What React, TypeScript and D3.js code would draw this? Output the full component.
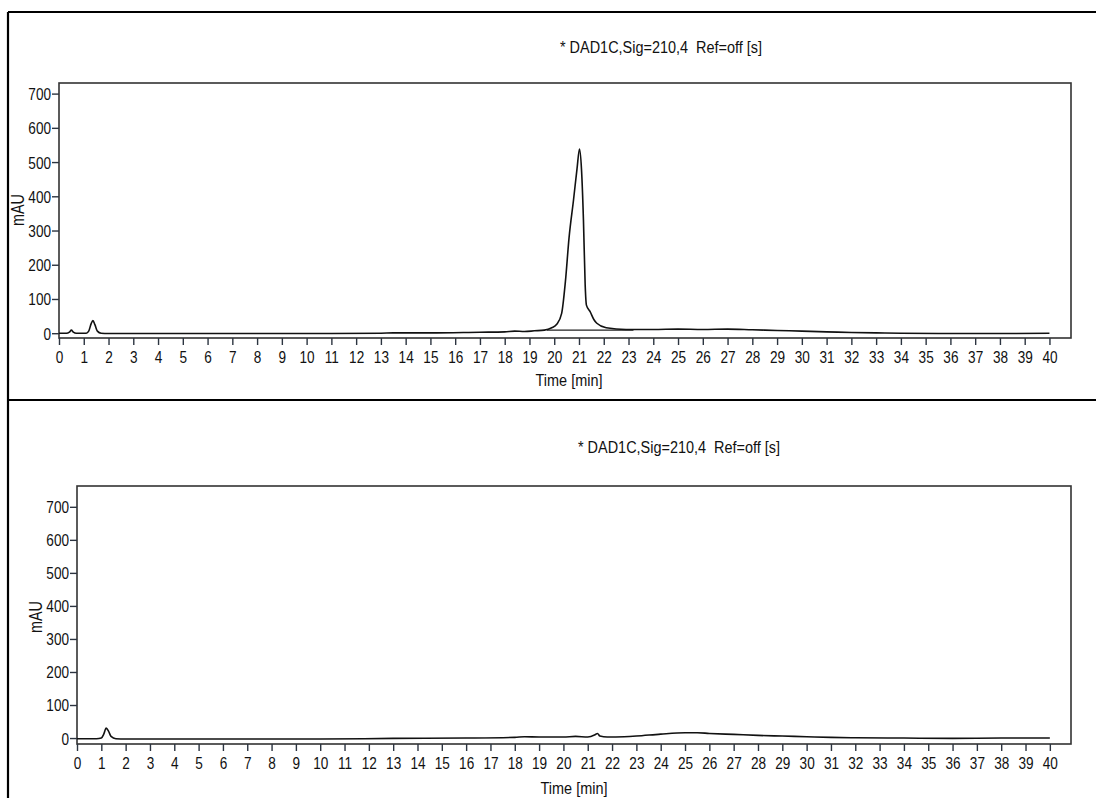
import React, { useEffect, useRef } from "react";
import * as d3 from "d3";

// chromatogram traces: [time in min, signal in mAU]
const topTrace: [number, number][] = [
  [0, 0], [0.3, 0], [0.42, 3], [0.5, 9], [0.58, 3], [0.7, 0], [1.1, 0], [1.2, 6], [1.3, 28], [1.37, 37],
  [1.45, 25], [1.55, 6], [1.7, 0], [2, -1], [5, -1], [10, -1], [13, 0], [13.5, 1], [15, 1], [17, 3],
  [18, 4], [18.4, 6], [18.8, 5], [19.2, 7], [19.6, 9], [19.9, 16], [20.1, 26], [20.3, 58], [20.45, 150],
  [20.6, 280], [20.78, 390], [20.92, 480], [21.02, 538], [21.1, 480], [21.18, 331], [21.25, 140], [21.3, 82],
  [21.45, 63], [21.6, 40], [21.72, 29], [22.1, 16], [22.9, 11], [24, 11], [25, 12], [26, 11], [27, 12],
  [28, 10], [29, 8], [30, 6], [31, 4], [32, 2], [33, 1], [34, 0], [36, -1], [38, -1], [40, 0],
];
// integration baseline under the main peak
const topBaseline: [number, number][] = [[19.7, 9], [23.2, 9]];

const bottomTrace: [number, number][] = [
  [0, -2], [0.8, -2], [1.0, 0], [1.1, 12], [1.2, 30], [1.3, 20], [1.4, 5], [1.6, -2], [2, -3], [10, -3],
  [13, -1], [16, 0], [18, 2], [18.4, 4], [19, 3], [20, 3], [20.5, 5], [21, 3], [21.3, 10], [21.4, 14],
  [21.5, 6], [21.8, 3], [22.5, 4], [23, 6], [24, 12], [25, 16], [25.5, 16], [26, 14], [27, 11], [28, 8],
  [29, 6], [30, 4], [31, 2], [32, 1], [34, 0], [36, -1], [38, 0], [40, 0],
];

const xTicks = d3.range(0, 41, 1);
const yTicks = [0, 100, 200, 300, 400, 500, 600, 700];
const title = "* DAD1C,Sig=210,4  Ref=off [s]";
const xLabel = "Time [min]";
const yLabel = "mAU";

// no narrow font installed, so squeeze Liberation Sans horizontally
const font = "'Liberation Sans', Arial, sans-serif";
const squeeze = 0.8;

type Panel = {
  left: number; right: number; top: number; bottom: number;
  yMin: number; yMax: number; titleX: number; titleY: number;
  xLabelX: number; xLabelY: number; yLabelX: number; yLabelY: number;
  trace: [number, number][]; baseline?: [number, number][];
};

const panels: Panel[] = [
  { left: 59, right: 1071, top: 83, bottom: 338, yMin: -14, yMax: 731, titleX: 661, titleY: 53,
    xLabelX: 569, xLabelY: 386, yLabelX: 18, yLabelY: 210, trace: topTrace, baseline: topBaseline },
  { left: 77, right: 1071, top: 486, bottom: 744, yMin: -18, yMax: 763, titleX: 679, titleY: 453,
    xLabelX: 574, xLabelY: 794, yLabelX: 36, yLabelY: 617, trace: bottomTrace },
];

const Chrom = ({ p }: { p: Panel }) => {
  const gx = useRef<SVGGElement>(null);
  const gy = useRef<SVGGElement>(null);
  const x = d3.scaleLinear().domain([0, 40.87]).range([p.left, p.right]);
  const y = d3.scaleLinear().domain([p.yMin, p.yMax]).range([p.bottom, p.top]);
  const line = d3.line<[number, number]>().x(d => x(d[0])).y(d => y(d[1])).curve(d3.curveMonotoneX);

  useEffect(() => {
    const ax = d3.select(gx.current!);
    ax.selectAll("*").remove();
    ax.call(d3.axisBottom(x).tickValues(xTicks).tickFormat(d3.format("d")).tickSize(7).tickSizeOuter(0));
    const ay = d3.select(gy.current!);
    ay.selectAll("*").remove();
    ay.call(d3.axisLeft(y).tickValues(yTicks).tickFormat(d3.format("d")).tickSize(7).tickSizeOuter(0));
    [ax, ay].forEach(a => {
      a.select(".domain").remove();
      a.selectAll(".tick line").attr("stroke", "#2c3440").attr("stroke-width", 1.4);
      a.selectAll(".tick text").attr("font-family", font).attr("font-size", 17).attr("fill", "#111");
    });
    ax.selectAll(".tick text").attr("dy", "0.71em").attr("y", 13)
      .attr("transform", `scale(${squeeze},1)`);
    ay.selectAll(".tick text").attr("x", -8 / squeeze).attr("dy", "0.35em")
      .attr("transform", `scale(${squeeze},1)`);
  }, []);

  return (
    <g>
      <text transform={`translate(${p.titleX},${p.titleY}) scale(0.85,1)`} textAnchor="middle" fontFamily={font}
        fontSize={17} fill="#111" style={{ whiteSpace: "pre" }}>{title}</text>
      <rect x={p.left} y={p.top} width={p.right - p.left} height={p.bottom - p.top}
        fill="none" stroke="#333" strokeWidth={1.6} />
      <g ref={gx} transform={`translate(0,${p.bottom})`} />
      <g ref={gy} transform={`translate(${p.left},0)`} />
      {p.baseline && (
        <path d={d3.line<[number, number]>().x(d => x(d[0])).y(d => y(d[1]))(p.baseline) ?? ""}
          fill="none" stroke="#222" strokeWidth={1.3} />
      )}
      <path d={line(p.trace) ?? ""} fill="none" stroke="#111" strokeWidth={1.6} strokeLinejoin="round" />
      <text transform={`translate(${p.xLabelX},${p.xLabelY}) scale(0.85,1)`} textAnchor="middle"
        fontFamily={font} fontSize={17} fill="#111">{xLabel}</text>
      <text transform={`translate(${p.yLabelX},${p.yLabelY}) rotate(-90) scale(${squeeze},1)`} textAnchor="middle"
        fontFamily={font} fontSize={18} fill="#111" dy="0.35em">{yLabel}</text>
    </g>
  );
};

export default function App() {
  return (
    <svg width={1096} height={798} style={{ position: "absolute", left: 0, top: 0, background: "#fff" }}>
      <rect x={0} y={0} width={1096} height={798} fill="#fff" />
      <line x1={8} y1={12} x2={1096} y2={12} stroke="#000" strokeWidth={2.2} />
      <line x1={8} y1={12} x2={8} y2={798} stroke="#000" strokeWidth={2.2} />
      <line x1={8} y1={400} x2={1096} y2={400} stroke="#000" strokeWidth={2.2} />
      {panels.map((p, i) => <Chrom key={i} p={p} />)}
    </svg>
  );
}
